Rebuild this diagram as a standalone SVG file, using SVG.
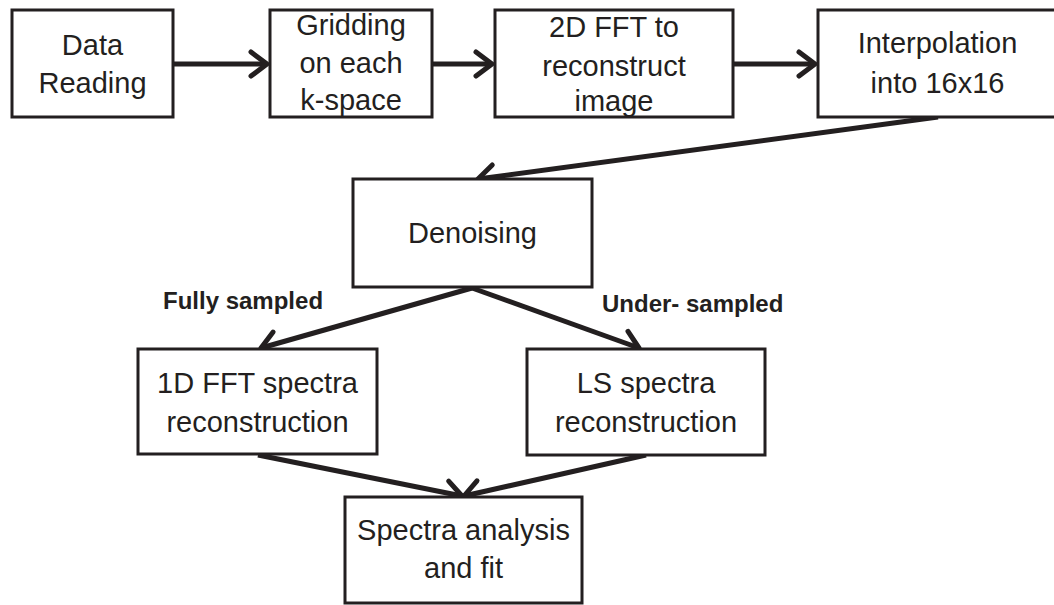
<svg xmlns="http://www.w3.org/2000/svg" width="1054" height="605" viewBox="0 0 1054 605">
  <style>
    .box { fill: #ffffff; stroke: #231f20; stroke-width: 3; }
    .t { font-family: "Liberation Sans", Arial, sans-serif; font-size: 29px; fill: #231f20; text-anchor: middle; }
    .lbl { font-family: "Liberation Sans", Arial, sans-serif; font-size: 24px; font-weight: bold; fill: #231f20; }
    .conn { fill: none; stroke: #231f20; stroke-width: 5; marker-end: url(#arr); }
  </style>
  <defs>
    <marker id="arr" markerUnits="userSpaceOnUse" viewBox="-22 -17 28 34" refX="0" refY="0" markerWidth="28" markerHeight="34" orient="auto" overflow="visible">
      <path d="M-16,-12 L0,0 L-16,12" fill="none" stroke="#231f20" stroke-width="5" stroke-linecap="round" stroke-linejoin="round"/>
    </marker>
  </defs>
  <rect width="1054" height="605" fill="#ffffff"/>

  <g id="connectors">
    <line class="conn" x1="173" y1="64" x2="267" y2="64"/>
    <line class="conn" x1="432" y1="64" x2="492" y2="64"/>
    <line class="conn" x1="733" y1="64" x2="815" y2="64"/>
    <line class="conn" x1="938" y1="117" x2="478" y2="179"/>
    <line class="conn" x1="472" y1="288" x2="261" y2="348"/>
    <line class="conn" x1="472" y1="288" x2="639" y2="348"/>
    <line class="conn" x1="258" y1="455" x2="462" y2="496"/>
    <line class="conn" x1="646" y1="455" x2="464" y2="496"/>
  </g>

  <g id="data-reading">
    <rect class="box" x="12" y="10" width="161" height="107"/>
    <text class="t" x="92.5" y="55">Data</text>
    <text class="t" x="92.5" y="93">Reading</text>
  </g>
  <g id="gridding">
    <rect class="box" x="270" y="10" width="162" height="107"/>
    <text class="t" x="351" y="35">Gridding</text>
    <text class="t" x="351" y="73">on each</text>
    <text class="t" x="351" y="110">k-space</text>
  </g>
  <g id="fft2d">
    <rect class="box" x="495" y="10" width="238" height="107"/>
    <text class="t" x="614" y="37">2D FFT to</text>
    <text class="t" x="614" y="76">reconstruct</text>
    <text class="t" x="614" y="111">image</text>
  </g>
  <g id="interpolation">
    <rect class="box" x="818" y="10" width="240" height="107"/>
    <text class="t" x="937.5" y="53">Interpolation</text>
    <text class="t" x="937.5" y="93">into 16x16</text>
  </g>
  <g id="denoising">
    <rect class="box" x="353" y="179" width="239" height="108"/>
    <text class="t" x="472.5" y="243">Denoising</text>
  </g>
  <g id="fft1d">
    <rect class="box" x="138" y="349" width="239" height="105"/>
    <text class="t" x="257.5" y="393">1D FFT spectra</text>
    <text class="t" x="257.5" y="432">reconstruction</text>
  </g>
  <g id="ls">
    <rect class="box" x="527" y="349" width="238" height="106"/>
    <text class="t" x="646" y="393">LS spectra</text>
    <text class="t" x="646" y="432">reconstruction</text>
  </g>
  <g id="spectra-analysis">
    <rect class="box" x="345" y="497" width="237" height="106"/>
    <text class="t" x="463.5" y="540">Spectra analysis</text>
    <text class="t" x="463.5" y="578">and fit</text>
  </g>
  <g id="labels">
    <text class="lbl" x="163" y="309">Fully sampled</text>
    <text class="lbl" x="602" y="312">Under- sampled</text>
  </g>
</svg>
